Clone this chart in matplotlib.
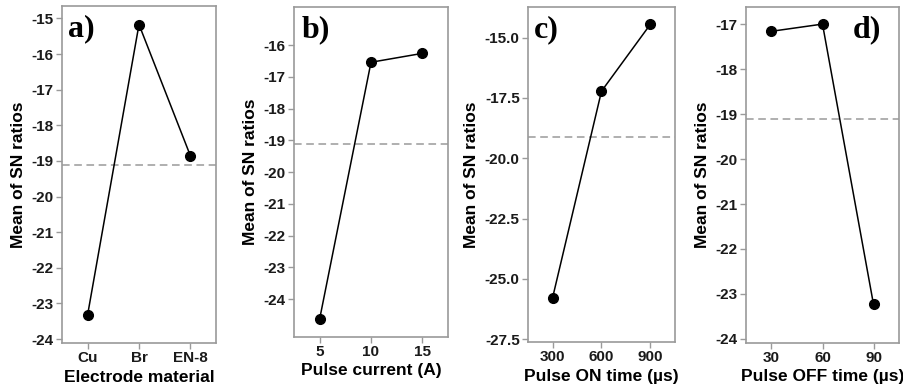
import matplotlib.pyplot as plt

# main effects for SN ratios
electrode = ['Cu', 'Br', 'EN-8']
sn_electrode = [-23.31, -15.17, -18.85]

current = [5, 10, 15]
sn_current = [-24.62, -16.54, -16.26]

ton = [300, 600, 900]
sn_ton = [-25.80, -17.22, -14.44]

toff = [30, 60, 90]
sn_toff = [-17.16, -17.00, -23.23]

mean_sn = -19.12

plt.rcParams['font.family'] = 'Liberation Sans'
plt.rcParams['font.weight'] = 'bold'
plt.rcParams['axes.labelweight'] = 'bold'
plt.rcParams['xtick.labelsize'] = 11
plt.rcParams['ytick.labelsize'] = 11

W, H = 904, 390
fig = plt.figure(figsize=(W / 100, H / 100), dpi=100)

gray = '#9a9a9a'


def box(l, r, t, b):
    return [l / W, 1 - b / H, (r - l) / W, (b - t) / H]


panels = [
    # box, x, y, xlim, ylim, yticks, yfmt, xlabel, tag, tag x
    (box(62, 216, 6, 343), [1, 2, 3], sn_electrode, (0.5, 3.5), (-24.11, -14.65),
     range(-24, -14), '{:d}', 'Electrode material', 'a)', 0.04),
    (box(294, 448, 7, 337), current, sn_current, (2.5, 17.5), (-25.19, -14.8),
     range(-24, -15), '{:d}', 'Pulse current (A)', 'b)', 0.05),
    (box(528, 675, 7, 342), ton, sn_ton, (150, 1050), (-27.62, -13.73),
     [-27.5, -25.0, -22.5, -20.0, -17.5, -15.0], '{:.1f}', 'Pulse ON time (\u00b5s)', 'c)', 0.04),
    (box(746, 899, 7, 343), toff, sn_toff, (15, 105), (-24.09, -16.62),
     range(-24, -16), '{:d}', 'Pulse OFF time (\u00b5s)', 'd)', 0.70),
]

for i, (pos, x, y, xl, yl, yt, yfmt, xlab, tag, tx) in enumerate(panels):
    ax = fig.add_axes(pos)
    ax.plot(x, y, color='black', lw=1.1, marker='o', ms=7, zorder=3)
    ax.axhline(mean_sn, color=gray, lw=1.1, ls=(0, (5, 3)))
    ax.set_xlim(*xl)
    ax.set_ylim(*yl)
    ax.set_xticks(x)
    if i == 0:
        ax.set_xticklabels(electrode)
    yt = list(yt)
    ax.set_yticks(yt)
    ax.set_yticklabels([yfmt.format(v) for v in yt])
    for s in ax.spines.values():
        s.set_color(gray)
        s.set_linewidth(1.2)
    ax.tick_params(color=gray, length=4, width=1, pad=2, labelcolor='#1a1a1a')
    ax.set_xlabel(xlab, fontsize=12.5, labelpad=3)
    ax.set_ylabel('Mean of SN ratios', fontsize=12.5, labelpad=4)
    ax.text(tx, 0.975, tag, transform=ax.transAxes, ha='left', va='top',
            family='Liberation Serif', weight='bold', fontsize=23)

fig.savefig('out.png', dpi=100)
